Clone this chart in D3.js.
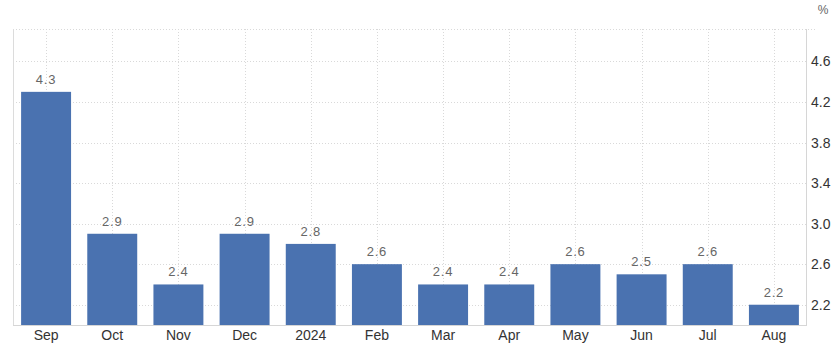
<!DOCTYPE html>
<html>
<head>
<meta charset="utf-8">
<script src="https://cdn.jsdelivr.net/npm/d3@7"></script>
<style>
  body { margin: 0; background: #fff; }
  svg { display: block; font-family: "Liberation Sans", Arial, sans-serif; }
</style>
</head>
<body>
<div id="chart"></div>
<script>
// Chart data
var months = ["Sep", "Oct", "Nov", "Dec", "2024", "Feb", "Mar", "Apr", "May", "Jun", "Jul", "Aug"];
var rates = [4.3, 2.9, 2.4, 2.9, 2.8, 2.6, 2.4, 2.4, 2.6, 2.5, 2.6, 2.2];
var yTicks = [2.2, 2.6, 3.0, 3.4, 3.8, 4.2, 4.6];

var svgWidth = 836, svgHeight = 350;
var margin = { top: 29, right: 29, bottom: 25, left: 13 };
var chartWidth = svgWidth - margin.left - margin.right;
var chartHeight = svgHeight - margin.top - margin.bottom;

var svg = d3.select("#chart").append("svg")
    .attr("width", svgWidth)
    .attr("height", svgHeight);

var chartGroup = svg.append("g")
    .attr("transform", `translate(${margin.left}, ${margin.top})`);

// Scales
var xScale = d3.scaleBand()
    .domain(months)
    .range([0, chartWidth])
    .paddingInner(0.245)
    .paddingOuter(0.1225);

var yScale = d3.scaleLinear()
    .domain([2.0, 4.92])
    .range([chartHeight, 0]);

// Horizontal grid lines
chartGroup.selectAll(".hgrid")
    .data(yTicks.concat([4.92]))
    .enter()
    .append("line")
    .attr("x1", 0)
    .attr("x2", function(d) { return d === 4.92 ? chartWidth + 9 : chartWidth; })
    .attr("y1", function(d) { return Math.round(yScale(d)) + 0.5; })
    .attr("y2", function(d) { return Math.round(yScale(d)) + 0.5; })
    .attr("stroke", "#d9d9d9")
    .attr("stroke-dasharray", "1,2");

// Vertical grid lines at each month
chartGroup.selectAll(".vgrid")
    .data(months)
    .enter()
    .append("line")
    .attr("x1", function(d) { return Math.round(xScale(d) + xScale.bandwidth() / 2) + 0.5; })
    .attr("x2", function(d) { return Math.round(xScale(d) + xScale.bandwidth() / 2) + 0.5; })
    .attr("y1", 0)
    .attr("y2", chartHeight)
    .attr("stroke", "#d9d9d9")
    .attr("stroke-dasharray", "1,2");

// Bars
chartGroup.selectAll("rect")
    .data(rates)
    .enter()
    .append("rect")
    .attr("x", function(d, i) { return xScale(months[i]); })
    .attr("y", function(d) { return yScale(d); })
    .attr("width", xScale.bandwidth())
    .attr("height", function(d) { return chartHeight - yScale(d); })
    .attr("fill", "#4a72b0");

// Value labels
chartGroup.selectAll(".label")
    .data(rates)
    .enter()
    .append("text")
    .attr("text-anchor", "middle")
    .attr("x", function(d, i) { return xScale(months[i]) + xScale.bandwidth() / 2; })
    .attr("y", function(d) { return yScale(d) - 8; })
    .attr("font-size", "13px")
    .attr("letter-spacing", "0.8px")
    .attr("fill", "#666")
    .text(function(d) { return d3.format(".1f")(d); });

// Left border
chartGroup.append("line")
    .attr("x1", 0.5).attr("x2", 0.5)
    .attr("y1", 0).attr("y2", chartHeight)
    .attr("stroke", "#dcdcdc");

// Bottom axis line
chartGroup.append("line")
    .attr("x1", 0).attr("x2", chartWidth)
    .attr("y1", chartHeight + 0.5).attr("y2", chartHeight + 0.5)
    .attr("stroke", "#d6d6d6");

// Right axis line
chartGroup.append("line")
    .attr("x1", chartWidth - 0.5).attr("x2", chartWidth - 0.5)
    .attr("y1", 0).attr("y2", chartHeight)
    .attr("stroke", "#d6d6d6");

// X axis labels
var xAxis = d3.axisBottom(xScale).tickSize(0).tickPadding(0);
var xg = chartGroup.append("g")
    .attr("transform", `translate(0, ${chartHeight})`)
    .call(xAxis);
xg.select(".domain").remove();
xg.selectAll("text")
    .attr("dy", "15px")
    .attr("font-size", "14px")
    .attr("font-family", "Liberation Sans, Arial, sans-serif")
    .attr("fill", "#333");

// Y axis labels (right side)
var yAxis = d3.axisRight(yScale).tickValues(yTicks).tickFormat(d3.format(".1f")).tickSize(0).tickPadding(4);
var yg = chartGroup.append("g")
    .attr("transform", `translate(${chartWidth}, 0)`)
    .call(yAxis);
yg.select(".domain").remove();
yg.selectAll("text")
    .attr("font-size", "14px")
    .attr("font-family", "Liberation Sans, Arial, sans-serif")
    .attr("fill", "#333");

// Unit label
svg.append("text")
    .attr("x", 823)
    .attr("y", 14)
    .attr("text-anchor", "middle")
    .attr("font-size", "12px")
    .attr("fill", "#666")
    .text("%");
</script>
</body>
</html>
